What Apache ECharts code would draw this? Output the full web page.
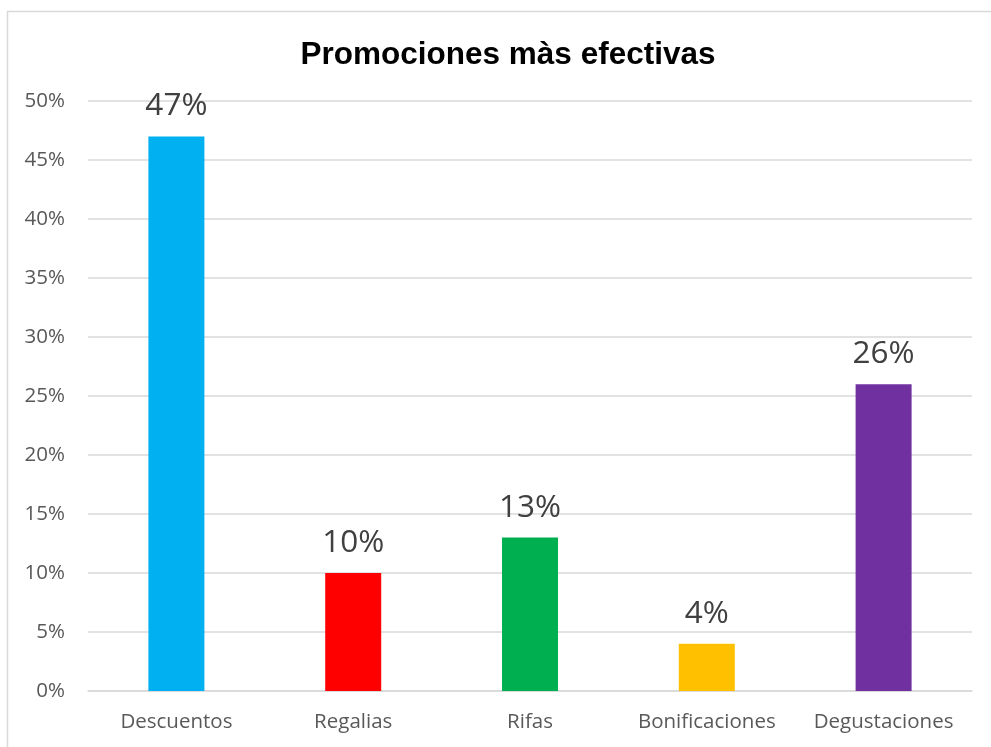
<!DOCTYPE html>
<html>
<head>
<meta charset="utf-8">
<style>
  html, body { margin: 0; padding: 0; background: #fff; }
  #chart { width: 991px; height: 747px; }
</style>
<script src="https://cdn.jsdelivr.net/npm/echarts@6/dist/echarts.min.js"></script>
</head>
<body>
<div id="chart"></div>
<script>
// Promotion types and the share of respondents choosing each one (%)
const categories = ['Descuentos', 'Regalias', 'Rifas', 'Bonificaciones', 'Degustaciones'];
const shares = [47, 10, 13, 4, 26];
const barColors = ['#00B0F0', '#FF0000', '#00B050', '#FFC000', '#7030A0'];
const yTicks = { min: 0, max: 50, step: 5 };

const chart = echarts.init(document.getElementById('chart'), null, { renderer: 'canvas' });

const labelFont = 'Open Sans, Lato, sans-serif';

chart.setOption({
  animation: false,
  backgroundColor: '#ffffff',
  graphic: [{
    type: 'rect',
    shape: { x: 7.5, y: 11.5, width: 1100, height: 900 },
    style: { fill: 'none', stroke: '#d9d9d9', lineWidth: 1.5 },
    silent: true
  }],
  title: {
    text: 'Promociones màs efectivas',
    left: 503,
    textAlign: 'center',
    top: 31,
    textStyle: {
      fontFamily: 'Liberation Sans, Arial, sans-serif',
      fontWeight: 'bold',
      fontSize: 31.5,
      lineHeight: 38,
      color: '#000000'
    }
  },
  grid: { left: 88, right: 19, top: 101, bottom: 56, containLabel: false },
  xAxis: {
    type: 'category',
    data: categories,
    axisLine: { show: true, lineStyle: { color: '#d9d9d9', width: 1.5 } },
    axisTick: { show: false },
    axisLabel: {
      interval: 0,
      hideOverlap: false,
      margin: 21,
      fontFamily: labelFont,
      fontSize: 20.5,
      color: '#595959'
    }
  },
  yAxis: {
    type: 'value',
    min: yTicks.min,
    max: yTicks.max,
    interval: yTicks.step,
    axisLine: { show: false },
    axisTick: { show: false },
    splitLine: { lineStyle: { color: '#d9d9d9', width: 1.5 } },
    axisLabel: {
      margin: 23,
      fontFamily: labelFont,
      fontSize: 20.5,
      color: '#595959',
      formatter: v => v + '%'
    }
  },
  series: [{
    type: 'bar',
    barWidth: 56,
    data: shares.map((v, i) => ({ value: v, itemStyle: { color: barColors[i] } })),
    label: {
      show: true,
      position: 'top',
      distance: 14,
      fontFamily: labelFont,
      fontSize: 31.5,
      color: '#404040',
      formatter: p => p.value + '%'
    }
  }]
});
</script>
</body>
</html>
